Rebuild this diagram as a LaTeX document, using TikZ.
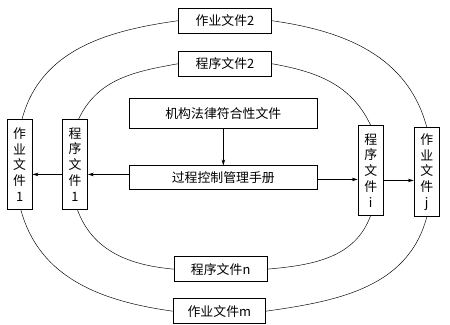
\documentclass[tikz,border=0pt]{standalone}
\usepackage{fontspec}
\newfontfamily\cjk{Noto Sans CJK SC}
\usetikzlibrary{arrows.meta, positioning}

\begin{document}
\begin{tikzpicture}[
    font=\cjk\fontsize{11}{13.5}\selectfont,
    doc/.style={rectangle, draw=black, semithick, fill=white, align=center, minimum width=2.78cm, minimum height=0.76cm, inner sep=2pt},
    wide/.style={doc, minimum width=5.64cm},
    vdoc/.style={rectangle, draw=black, semithick, fill=white, align=center, minimum width=0.76cm, minimum height=2.68cm, inner sep=1pt},
    arrow/.style={-{Stealth[length=5pt, width=3pt]}, thin, draw=black},
    link/.style={thin, draw=black}
]
\useasboundingbox (0,0) rectangle (13.5,9.75);

% Nodes
\node[doc] (job2) at (6.75,9.13) {作业文件2};
\node[doc, below=0.51cm of job2] (prog2) {程序文件2};

\node[wide, minimum height=0.9cm, below=0.63cm of prog2, xshift=-0.05cm] (law) {机构法律符合性文件};
\node[wide, minimum height=0.72cm, below=1.11cm of law] (manual) {过程控制管理手册};

\node[vdoc, left=1.23cm of manual, yshift=0.4cm] (prog1) {程\\序\\文\\件\\1};
\node[vdoc, left=0.88cm of prog1] (job1) {作\\业\\文\\件\\1};
\node[vdoc, right=1.2cm of manual, yshift=0.22cm] (progi) {程\\序\\文\\件\\i};
\node[vdoc, right=0.9cm of progi, yshift=-0.05cm] (jobj) {作\\业\\文\\件\\j};

\node[doc, below=1.98cm of manual, xshift=-0.08cm] (progn) {程序文件n};
\node[doc, below=0.48cm of progn, xshift=-0.04cm] (jobm) {作业文件m};

% Arcs
\draw[link] (job2.west) to[out=188, in=75] ([xshift=2pt]job1.north);
\draw[link] (job2.east) to[out=-8, in=105] (jobj.north);
\draw[link] ([xshift=1pt]job1.south) to[out=-75, in=172] (jobm.west);
\draw[link] (jobm.east) to[out=8, in=-105] (jobj.south);

\draw[link] (prog2.west) to[out=190, in=65] ([xshift=3pt]prog1.north);
\draw[link] (prog2.east) to[out=-10, in=115] (progi.north);
\draw[link] ([xshift=2pt]prog1.south) to[out=-70, in=175] (progn.west);
\draw[link] (progn.east) to[out=5, in=-110] (progi.south);

% Arrows
\draw[arrow] (law) -- (manual);
\draw[arrow] ([yshift=0.1cm]manual.west) -- ([yshift=0.1cm]manual.west -| prog1.east);
\draw[arrow] ([yshift=0.1cm]manual.west -| prog1.west) -- ([yshift=0.1cm]manual.west -| job1.east);
\draw[arrow] ([yshift=-0.05cm]manual.east) -- ([yshift=-0.05cm]manual.east -| progi.west);
\draw[arrow] ([yshift=-0.08cm]manual.east -| progi.east) -- ([yshift=-0.08cm]manual.east -| jobj.west);

\end{tikzpicture}
\end{document}
